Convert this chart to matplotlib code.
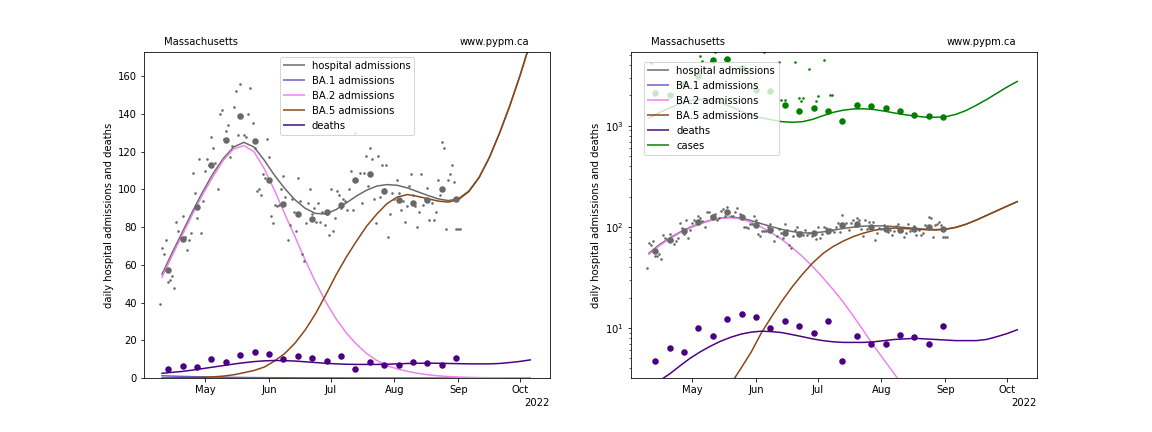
import numpy as np
import pandas as pd
import matplotlib
matplotlib.use('Agg')
import matplotlib.pyplot as plt
import matplotlib.dates as mdates
from matplotlib.lines import Line2D

# model curves (every ~5 days, Apr 10 - Oct 6)
curve_dates = pd.date_range('2022-04-10', '2022-10-06', periods=37)
hosp_curve = [55, 66.5, 77.5, 88.5, 99, 108.5, 116.5, 122.5, 125, 122.5, 115.5, 107.5,
              100.5, 94.5, 90, 87.3, 87, 89.3, 92.8, 96.5, 99.6, 101.8, 102.6, 102.2,
              100.8, 98.8, 96.8, 95, 94.1, 95.2, 99.2, 106.5, 117, 130, 144.5, 160.5, 178]
ba1_curve = [1.2, 1.0, 0.85, 0.7, 0.6, 0.5, 0.4, 0.33, 0.27, 0.22, 0.18, 0.15, 0.12,
             0.1, 0.08, 0.07, 0.06, 0.05, 0.04, 0.03, 0.03, 0.02, 0.02, 0.02, 0.01,
             0.01, 0.01, 0.01, 0.01, 0.01, 0.01, 0.01, 0.01, 0.01, 0.01, 0.01, 0.01]
ba2_curve = [53.5, 65, 76, 87, 97.5, 107, 115.5, 121.5, 123.3, 120, 111, 99.5, 87, 75,
             62.5, 51, 40.5, 31.5, 24, 18, 13, 9.3, 6.6, 4.8, 3.5, 2.5, 1.7, 1.15, 0.78,
             0.52, 0.35, 0.23, 0.15, 0.1, 0.065, 0.043, 0.028]
ba5_curve = [0.05, 0.08, 0.13, 0.2, 0.35, 0.6, 1.0, 1.7, 2.8, 4.0, 5.8, 9, 13, 18.5,
             25.5, 34, 44, 54.5, 64, 72.5, 80.5, 87, 92.5, 96, 97.3, 96.3, 95.1, 93.85,
             93.3, 94.7, 98.9, 106.3, 116.9, 129.9, 144.4, 160.4, 177.9]
death_curve = [2.5, 3.0, 3.5, 4.2, 5.0, 5.8, 6.6, 7.4, 8.1, 8.7, 9.1, 9.3, 9.2, 9.0,
               8.6, 8.2, 7.8, 7.5, 7.3, 7.2, 7.2, 7.2, 7.3, 7.5, 7.7, 7.8, 7.9, 7.8,
               7.7, 7.6, 7.5, 7.5, 7.5, 7.7, 8.2, 8.8, 9.6]
case_curve = [1190, 1350, 1500, 1650, 1780, 1830, 1800, 1700, 1550, 1400, 1280, 1200,
              1150, 1100, 1085, 1100, 1160, 1260, 1360, 1430, 1470, 1475, 1450, 1400,
              1340, 1290, 1250, 1220, 1215, 1230, 1300, 1420, 1600, 1820, 2100, 2420, 2750]

# daily hospital admissions, Apr 9 - Sep 2
daily_dates = pd.date_range('2022-04-09', periods=147)
hosp_daily = [39, 69, 66, 73, 51, 52, 54, 48, 83, 78,
              74, 86, 75, 68, 73, 77, 109, 98, 85, 116,
              77, 94, 110, 116, 113, 128, 122, 114, 100, 140,
              142, 127, 131, 134, 117, 123, 144, 152, 129, 156,
              139, 129, 128, 140, 154, 135, 122, 99, 100, 97,
              108, 106,
              127, 117, 86, 82, 92, 91, 92, 100, 107, 96,
              73, 81, 95, 88, 78, 106, 94, 66, 62, 82,
              93, 100, 87, 90, 83, 93, 83, 88, 81, 87,
              76, 100, 78, 85, 99, 97, 90, 95, 94, 89,
              100, 110, 89, 130, 105, 109, 93, 109, 118, 102,
              122, 116, 95, 82, 118, 96, 113, 100, 113, 75,
              87, 98, 95, 105, 98, 89, 94, 83, 91, 102,
              108, 97, 91, 80, 88, 108, 92, 95, 101, 84,
              93, 84, 88, 105, 97, 125, 122, 79, 105, 108,
              113, 104, 79, 79, 79]

# weekly values
week_dates = pd.date_range('2022-04-13', periods=21, freq='7D')
hosp_week = [57.5, 73.5, 90.5, 113, 126.5, 139, 125.5, 105, 92.5, 87, 84.5, 88, 91.5,
             105, 108, 99, 94.5, 93, 94.5, 100, 95]
death_week = [4.7, 6.3, 5.8, 10, 8.4, 12.2, 13.6, 12.7, 10, 11.7, 10.5, 8.9, 11.6, 4.7,
              8.4, 7, 7, 8.5, 8.1, 6.9, 10.5]
case_week = [2100, 2000, 2600, 3100, 4500, 4600, 3700, 2250, 2200, 1600, 1410, 1500,
             1400, 1120, 1600, 1570, 1500, 1410, 1280, 1250, 1220]

# daily cases (visible ones)
case_daily_dates = pd.to_datetime(['2022-04-11', '2022-05-05', '2022-05-06', '2022-05-10',
                                   '2022-05-12', '2022-05-17', '2022-05-19', '2022-06-05',
                                   '2022-06-12', '2022-06-13', '2022-06-15', '2022-06-20',
                                   '2022-06-22', '2022-06-23', '2022-06-24', '2022-06-27',
                                   '2022-06-30', '2022-07-01', '2022-07-04', '2022-07-07',
                                   '2022-07-08'])
case_daily = [4180, 4930, 4400, 4400, 5360, 4550, 4550, 5360, 4330, 1810, 1810, 4330,
              1880, 1780, 1880, 3670, 1780, 1995, 4440, 2030, 2030]

lines = [('hospital admissions', 'dimgray', hosp_curve),
         ('BA.1 admissions', 'slateblue', ba1_curve),
         ('BA.2 admissions', 'violet', ba2_curve),
         ('BA.5 admissions', 'saddlebrown', ba5_curve),
         ('deaths', 'indigo', death_curve)]

fig, axes = plt.subplots(1, 2, figsize=(16, 6), dpi=72)
fig.subplots_adjust(bottom=0.125)

for i, ax in enumerate(axes):
    handles = []
    for label, color, values in lines:
        ax.plot(curve_dates, values, color=color, lw=1.5)
        handles.append(Line2D([], [], color=color, lw=2, alpha=0.75, label=label))
    ax.plot(daily_dates, hosp_daily, 'o', color='dimgray', ms=2.6, mew=0)
    ax.plot(week_dates, hosp_week, 'o', color='dimgray', ms=6.5, mew=0)
    ax.plot(week_dates, death_week, 'o', color='indigo', ms=6.5, mew=0)
    if i == 1:
        ax.plot(curve_dates, case_curve, color='green', lw=1.5)
        ax.plot(case_daily_dates, case_daily, 'o', color='green', ms=2.6, mew=0)
        ax.plot(week_dates, case_week, 'o', color='green', ms=6.5, mew=0)
        handles.append(Line2D([], [], color='green', lw=2, alpha=0.75, label='cases'))
        ax.set_yscale('log')
        ax.set_ylim(3.2, 5400)
        ax.legend(handles=handles, loc='upper left', bbox_to_anchor=(0.02, 0.985))
    else:
        ax.set_ylim(0, 173)
        ax.legend(handles=handles, loc='upper center')

    ax.set_xlim(pd.Timestamp('2022-04-01 06:00'), pd.Timestamp('2022-10-15 12:00'))
    locator = mdates.AutoDateLocator()
    ax.xaxis.set_major_locator(locator)
    ax.xaxis.set_major_formatter(mdates.ConciseDateFormatter(locator))
    ax.set_ylabel('daily hospital admissions and deaths')
    ax.text(0.05, 1.02, 'Massachusetts', transform=ax.transAxes)
    ax.text(0.95, 1.02, 'www.pypm.ca', transform=ax.transAxes, ha='right')

fig.savefig('out.png', dpi=72)
